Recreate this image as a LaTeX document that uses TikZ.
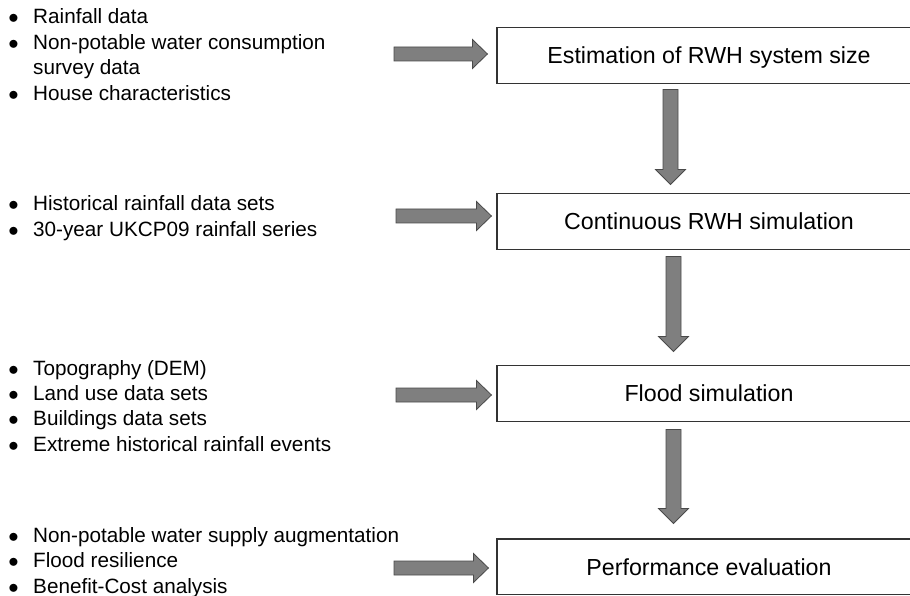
\documentclass[tikz,border=0pt]{standalone}
\usepackage{fontspec}
\setmainfont{Liberation Sans}
\usetikzlibrary{calc}
\definecolor{arrowfill}{HTML}{7F7F7F}
\definecolor{arrowline}{HTML}{4A4A4A}
\definecolor{boxline}{HTML}{333333}
\tikzset{
  box/.style={draw=boxline, line width=1.1pt, fill=white, minimum width=440pt,
    minimum height=55.5pt, inner sep=0pt, font=\fontsize{23.2}{27}\selectfont,
    text height=16.6pt, text depth=0pt},
  blist/.style={anchor=base west, inner sep=0pt, font=\fontsize{20.7}{25.4}\selectfont},
  blk/.style={fill=arrowfill, draw=arrowline, line width=0.8pt, line join=miter}
}
\newcommand\bulletmark{\makebox[26.6pt]{$\bullet$}}
\newcommand\boxtext[1]{\hspace*{-16pt}#1}
\newcommand\rightblock[2]{\path[blk] let \p1=(#1), \p2=(#2) in
  (\x1,\y1+7pt) -- (\x2-15pt,\y1+7pt) -- (\x2-15pt,\y1+14.5pt) -- (\x2,\y1)
  -- (\x2-15pt,\y1-14.5pt) -- (\x2-15pt,\y1-7pt) -- (\x1,\y1-7pt) -- cycle;}
\newcommand\downblock[2]{\path[blk] let \p1=(#1), \p2=(#2) in
  (\x1-7.5pt,\y1) -- (\x1+7.5pt,\y1) -- (\x1+7.5pt,\y2+15pt) -- (\x1+15pt,\y2+15pt)
  -- (\x1,\y2) -- (\x1-15pt,\y2+15pt) -- (\x1-7.5pt,\y2+15pt) -- cycle;}
\begin{document}
\begin{tikzpicture}[x=1pt,y=-1pt]
\useasboundingbox (0,0) rectangle (910,596);
% process boxes (right side runs off the picture)
\node[box] (b1) at (717,55.5) {\boxtext{Estimation of RWH system size}};
\node[box] (b2) at (717,221.5) {\boxtext{Continuous RWH simulation}};
\node[box] (b3) at (717,393.5) {\boxtext{Flood simulation}};
\node[box] (b4) at (717,566.75) {\boxtext{Performance evaluation}};
% input lists
\node[blist] (l1) at (0,24) {\begin{tabular}[t]{@{}c@{\hspace{6.4pt}}l@{}}
  \bulletmark & Rainfall data\\
  \bulletmark & Non-potable water consumption\\
              & survey data\\
  \bulletmark & House characteristics\end{tabular}};
\node[blist] (l2) at (0,210.7) {\begin{tabular}[t]{@{}c@{\hspace{6.4pt}}l@{}}
  \bulletmark & Historical rainfall data sets\\
  \bulletmark & 30-year UKCP09 rainfall series\end{tabular}};
\node[blist] (l3) at (0,375) {\begin{tabular}[t]{@{}c@{\hspace{6.4pt}}l@{}}
  \bulletmark & Topography (DEM)\\
  \bulletmark & Land use data sets\\
  \bulletmark & Buildings data sets\\
  \bulletmark & Extreme historical rainfall events\end{tabular}};
\node[blist] (l4) at (0,542.5) {\begin{tabular}[t]{@{}c@{\hspace{6.4pt}}l@{}}
  \bulletmark & Non-potable water supply augmentation\\
  \bulletmark & Flood resilience\\
  \bulletmark & Benefit-Cost analysis\end{tabular}};
% horizontal arrow ends
\coordinate (s1) at (394,54);  \coordinate (t1) at ($(b1.west)+(-9,-1.5)$);
\coordinate (s2) at (396,216); \coordinate (t2) at ($(b2.west)+(-5,-5.5)$);
\coordinate (s3) at (396,395); \coordinate (t3) at ($(b3.west)+(-5,1.5)$);
\coordinate (s4) at (394,568); \coordinate (t4) at ($(b4.west)+(-8,1.25)$);
\rightblock{s1}{t1}
\rightblock{s2}{t2}
\rightblock{s3}{t3}
\rightblock{s4}{t4}
% vertical arrow ends
\coordinate (d1s) at ($(b1.south)+(-46.5,5.75)$); \coordinate (d1e) at ($(b2.north)+(-46.5,-8.75)$);
\coordinate (d2s) at ($(b2.south)+(-43.5,6.75)$); \coordinate (d2e) at ($(b3.north)+(-43.5,-13.75)$);
\coordinate (d3s) at ($(b3.south)+(-43.5,7.75)$); \coordinate (d3e) at ($(b4.north)+(-43.5,-15)$);
\downblock{d1s}{d1e}
\downblock{d2s}{d2e}
\downblock{d3s}{d3e}
\end{tikzpicture}
\end{document}
